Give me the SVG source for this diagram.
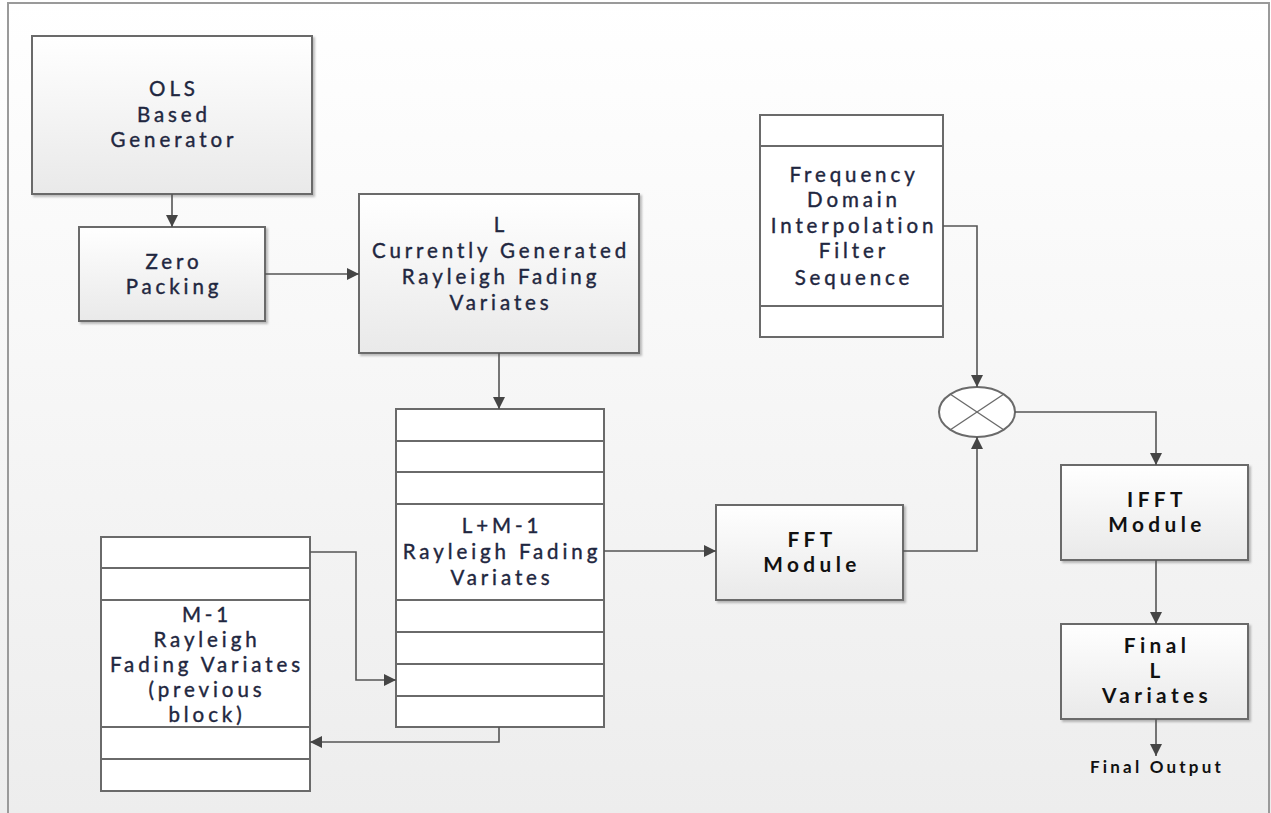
<svg xmlns="http://www.w3.org/2000/svg" width="1271" height="813" viewBox="0 0 1271 813">
  <defs>
    <linearGradient id="bg" x1="0" y1="0" x2="0" y2="1">
      <stop offset="0" stop-color="#ffffff"/>
      <stop offset="1" stop-color="#ededed"/>
    </linearGradient>
    <linearGradient id="boxFill" x1="0" y1="0" x2="0" y2="1">
      <stop offset="0" stop-color="#ffffff"/>
      <stop offset="1" stop-color="#e9e9e9"/>
    </linearGradient>
    <filter id="shadow" x="-5%" y="-5%" width="115%" height="115%">
      <feDropShadow dx="2" dy="2" stdDeviation="1.2" flood-color="#000" flood-opacity="0.25"/>
    </filter>
    <marker id="arrow" viewBox="0 0 12 12" refX="12" refY="6" markerWidth="12" markerHeight="12" markerUnits="userSpaceOnUse" orient="auto">
      <path d="M0,0 L12,6 L0,12 z" fill="#454545"/>
    </marker>
  </defs>
  <style>
    .box { fill: url(#boxFill); stroke: #6a6a6a; stroke-width: 2; filter: url(#shadow); }
    .stack { fill: #ffffff; stroke: #6a6a6a; stroke-width: 2; }
    .div { stroke: #6a6a6a; stroke-width: 2; }
    .lbl { font-family: Lato, "Open Sans", "Liberation Sans", sans-serif; font-size: 20.5px; letter-spacing: 3.9px; fill: #1f2740; stroke: #1f2740; stroke-width: 0.4; text-anchor: middle; }
    .bold { font-family: Lato, "Open Sans", "Liberation Sans", sans-serif; font-size: 20.8px; font-weight: bold; letter-spacing: 4.4px; fill: #111111; text-anchor: middle; }
    .small { font-family: Lato, "Open Sans", "Liberation Sans", sans-serif; font-size: 17px; font-weight: bold; letter-spacing: 3.2px; fill: #111111; text-anchor: middle; }
    .wire { fill: none; stroke: #555555; stroke-width: 1.6; }
  </style>

  <!-- page background and frame -->
  <rect x="0" y="0" width="1271" height="813" fill="url(#bg)"/>
  <path d="M8,813 V3 H1269 V813" fill="none" stroke="#9a9a9a" stroke-width="2"/>

  <!-- OLS based generator -->
  <g id="ols-generator">
    <rect class="box" x="32" y="36" width="280" height="158"/>
    <text class="lbl" x="174" y="96">OLS</text>
    <text class="lbl" x="174" y="122">Based</text>
    <text class="lbl" x="174" y="147">Generator</text>
  </g>

  <!-- Zero packing -->
  <g id="zero-packing">
    <rect class="box" x="79" y="227" width="186" height="94"/>
    <text class="lbl" x="174" y="269">Zero</text>
    <text class="lbl" x="174" y="294">Packing</text>
  </g>

  <!-- L currently generated variates -->
  <g id="current-variates">
    <rect class="box" x="359" y="194" width="280" height="159"/>
    <text class="lbl" x="501" y="232">L</text>
    <text class="lbl" x="501" y="258">Currently Generated</text>
    <text class="lbl" x="501" y="284">Rayleigh Fading</text>
    <text class="lbl" x="501" y="310">Variates</text>
  </g>

  <!-- Frequency domain interpolation filter sequence -->
  <g id="filter-sequence">
    <rect class="stack" x="760" y="115" width="183" height="222"/>
    <line class="div" x1="760" y1="146" x2="943" y2="146"/>
    <line class="div" x1="760" y1="306" x2="943" y2="306"/>
    <text class="lbl" x="854" y="182">Frequency</text>
    <text class="lbl" x="854" y="207">Domain</text>
    <text class="lbl" x="854" y="233">Interpolation</text>
    <text class="lbl" x="854" y="258">Filter</text>
    <text class="lbl" x="854" y="285">Sequence</text>
  </g>

  <!-- Multiplier -->
  <g id="multiplier">
    <ellipse cx="977" cy="412" rx="38" ry="25" fill="#ffffff" stroke="#6a6a6a" stroke-width="2"/>
    <line x1="950" y1="394" x2="1004" y2="430" stroke="#6a6a6a" stroke-width="1.4"/>
    <line x1="950" y1="430" x2="1004" y2="394" stroke="#6a6a6a" stroke-width="1.4"/>
  </g>

  <!-- L+M-1 buffer -->
  <g id="buffer-lm1">
    <rect class="stack" x="396" y="409" width="208" height="318"/>
    <line class="div" x1="396" y1="441" x2="604" y2="441"/>
    <line class="div" x1="396" y1="472" x2="604" y2="472"/>
    <line class="div" x1="396" y1="504" x2="604" y2="504"/>
    <line class="div" x1="396" y1="600" x2="604" y2="600"/>
    <line class="div" x1="396" y1="632" x2="604" y2="632"/>
    <line class="div" x1="396" y1="664" x2="604" y2="664"/>
    <line class="div" x1="396" y1="696" x2="604" y2="696"/>
    <text class="lbl" x="502" y="533">L+M-1</text>
    <text class="lbl" x="502" y="559">Rayleigh Fading</text>
    <text class="lbl" x="502" y="585">Variates</text>
  </g>

  <!-- M-1 previous block buffer -->
  <g id="buffer-m1">
    <rect class="stack" x="101" y="537" width="209" height="254"/>
    <line class="div" x1="101" y1="568" x2="310" y2="568"/>
    <line class="div" x1="101" y1="600" x2="310" y2="600"/>
    <line class="div" x1="101" y1="727" x2="310" y2="727"/>
    <line class="div" x1="101" y1="759" x2="310" y2="759"/>
    <text class="lbl" x="207" y="622">M-1</text>
    <text class="lbl" x="207" y="647">Rayleigh</text>
    <text class="lbl" x="207" y="672">Fading Variates</text>
    <text class="lbl" x="207" y="697">(previous</text>
    <text class="lbl" x="207" y="722">block)</text>
  </g>

  <!-- FFT -->
  <g id="fft-module">
    <rect class="box" x="716" y="505" width="187" height="95"/>
    <text class="bold" x="812" y="547">FFT</text>
    <text class="bold" x="812" y="572">Module</text>
  </g>

  <!-- IFFT -->
  <g id="ifft-module">
    <rect class="box" x="1061" y="465" width="187" height="95"/>
    <text class="bold" x="1157" y="507">IFFT</text>
    <text class="bold" x="1157" y="532">Module</text>
  </g>

  <!-- Final L variates -->
  <g id="final-variates">
    <rect class="box" x="1061" y="624" width="187" height="95"/>
    <text class="bold" x="1157" y="653">Final</text>
    <text class="bold" x="1157" y="678">L</text>
    <text class="bold" x="1157" y="703">Variates</text>
  </g>

  <g id="final-output">
    <text class="small" x="1157" y="773">Final Output</text>
  </g>

  <!-- connectors -->
  <g id="connectors">
    <path class="wire" d="M172,194 V227" marker-end="url(#arrow)"/>
    <path class="wire" d="M265,274 H359" marker-end="url(#arrow)"/>
    <path class="wire" d="M499,353 V409" marker-end="url(#arrow)"/>
    <path class="wire" d="M604,551 H716" marker-end="url(#arrow)"/>
    <path class="wire" d="M903,551 H977 V437" marker-end="url(#arrow)"/>
    <path class="wire" d="M943,226 H977 V387" marker-end="url(#arrow)"/>
    <path class="wire" d="M1015,412 H1156 V465" marker-end="url(#arrow)"/>
    <path class="wire" d="M1156,560 V624" marker-end="url(#arrow)"/>
    <path class="wire" d="M1156,719 V756" marker-end="url(#arrow)"/>
    <path class="wire" d="M310,552 H356 V680 H396" marker-end="url(#arrow)"/>
    <path class="wire" d="M499,727 V742 H310" marker-end="url(#arrow)"/>
  </g>
</svg>
